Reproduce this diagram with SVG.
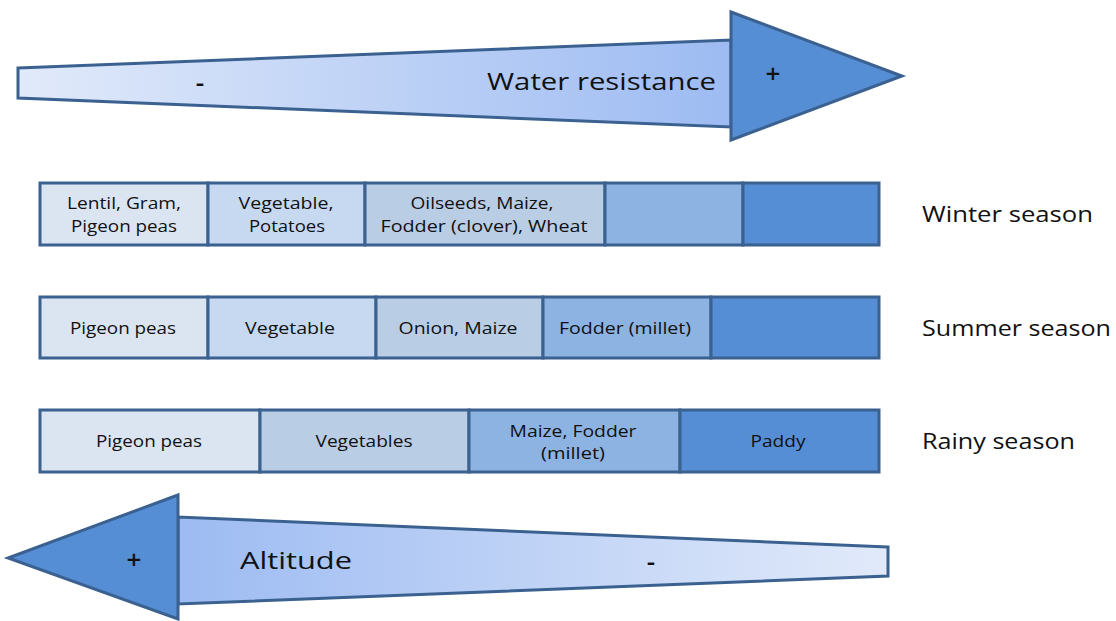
<svg xmlns="http://www.w3.org/2000/svg" width="1116" height="621" viewBox="0 0 1116 621">
  <defs>
    <linearGradient id="shaftRight" x1="18" y1="0" x2="731" y2="0" gradientUnits="userSpaceOnUse">
      <stop offset="0" stop-color="#e1eafa"/>
      <stop offset="1" stop-color="#9dbbf2"/>
    </linearGradient>
    <linearGradient id="shaftLeft" x1="888" y1="0" x2="178" y2="0" gradientUnits="userSpaceOnUse">
      <stop offset="0" stop-color="#e1eafa"/>
      <stop offset="1" stop-color="#9dbbf2"/>
    </linearGradient>
  </defs>
  <style>
    .edge { stroke: #3b6190; stroke-width: 3; stroke-linejoin: miter; }
    .head { fill: #558ed5; }
    .c1 { fill: #dbe5f1; }
    .c2 { fill: #c6d9f1; }
    .c3 { fill: #b9cde5; }
    .c4 { fill: #8db3e2; }
    .c5 { fill: #558ed5; }
    text { font-family: "Open Sans", "DejaVu Sans", sans-serif; fill: #111; }
    .cell { font-size: 16px; text-anchor: middle; }
    .season { font-size: 22px; }
    .big { font-size: 24px; }
    .sign { font-size: 26px; text-anchor: middle; font-weight: 600; }
  </style>

  <!-- Water resistance arrow (pointing right) -->
  <g id="arrow-water">
    <polygon class="edge" fill="url(#shaftRight)" points="18,68 731,40 731,127 18,98"/>
    <polygon class="edge head" points="731,12 902,76 731,140"/>
    <text class="sign" x="200" y="92">-</text>
    <text class="big" x="487" y="90" textLength="229" lengthAdjust="spacingAndGlyphs">Water resistance</text>
    <text class="sign" x="773" y="83">+</text>
  </g>

  <!-- Winter season row -->
  <g id="row-winter">
    <rect class="edge c1" x="40" y="183" width="168" height="62"/>
    <rect class="edge c2" x="208" y="183" width="157" height="62"/>
    <rect class="edge c3" x="365" y="183" width="240" height="62"/>
    <rect class="edge c4" x="605" y="183" width="138" height="62"/>
    <rect class="edge c5" x="743" y="183" width="136" height="62"/>
    <text class="cell" x="124" y="209" textLength="114" lengthAdjust="spacingAndGlyphs">Lentil, Gram,</text>
    <text class="cell" x="124" y="232" textLength="106" lengthAdjust="spacingAndGlyphs">Pigeon peas</text>
    <text class="cell" x="286" y="209" textLength="95" lengthAdjust="spacingAndGlyphs">Vegetable,</text>
    <text class="cell" x="287" y="232" textLength="76" lengthAdjust="spacingAndGlyphs">Potatoes</text>
    <text class="cell" x="482" y="209" textLength="143" lengthAdjust="spacingAndGlyphs">Oilseeds, Maize,</text>
    <text class="cell" x="484" y="232" textLength="207" lengthAdjust="spacingAndGlyphs">Fodder (clover), Wheat</text>
    <text class="season" x="922" y="222" textLength="171" lengthAdjust="spacingAndGlyphs">Winter season</text>
  </g>

  <!-- Summer season row -->
  <g id="row-summer">
    <rect class="edge c1" x="40" y="297" width="168" height="61"/>
    <rect class="edge c2" x="208" y="297" width="168" height="61"/>
    <rect class="edge c3" x="376" y="297" width="167" height="61"/>
    <rect class="edge c4" x="543" y="297" width="168" height="61"/>
    <rect class="edge c5" x="711" y="297" width="168" height="61"/>
    <text class="cell" x="123" y="334" textLength="106" lengthAdjust="spacingAndGlyphs">Pigeon peas</text>
    <text class="cell" x="290" y="334" textLength="90" lengthAdjust="spacingAndGlyphs">Vegetable</text>
    <text class="cell" x="458" y="334" textLength="119" lengthAdjust="spacingAndGlyphs">Onion, Maize</text>
    <text class="cell" x="625" y="334" textLength="132" lengthAdjust="spacingAndGlyphs">Fodder (millet)</text>
    <text class="season" x="922" y="336" textLength="189" lengthAdjust="spacingAndGlyphs">Summer season</text>
  </g>

  <!-- Rainy season row -->
  <g id="row-rainy">
    <rect class="edge c1" x="40" y="410" width="220" height="62"/>
    <rect class="edge c3" x="260" y="410" width="209" height="62"/>
    <rect class="edge c4" x="469" y="410" width="211" height="62"/>
    <rect class="edge c5" x="680" y="410" width="199" height="62"/>
    <text class="cell" x="149" y="447" textLength="106" lengthAdjust="spacingAndGlyphs">Pigeon peas</text>
    <text class="cell" x="364" y="447" textLength="97" lengthAdjust="spacingAndGlyphs">Vegetables</text>
    <text class="cell" x="573" y="437" textLength="127" lengthAdjust="spacingAndGlyphs">Maize, Fodder</text>
    <text class="cell" x="573" y="459" textLength="64" lengthAdjust="spacingAndGlyphs">(millet)</text>
    <text class="cell" x="778" y="447" textLength="55" lengthAdjust="spacingAndGlyphs">Paddy</text>
    <text class="season" x="922" y="449" textLength="153" lengthAdjust="spacingAndGlyphs">Rainy season</text>
  </g>

  <!-- Altitude arrow (pointing left) -->
  <g id="arrow-altitude">
    <polygon class="edge" fill="url(#shaftLeft)" points="888,547 178,517 178,604 888,576"/>
    <polygon class="edge head" points="178,495 8,558 178,619"/>
    <text class="sign" x="134" y="569">+</text>
    <text class="big" x="240" y="569" textLength="112" lengthAdjust="spacingAndGlyphs">Altitude</text>
    <text class="sign" x="651" y="571">-</text>
  </g>
</svg>
